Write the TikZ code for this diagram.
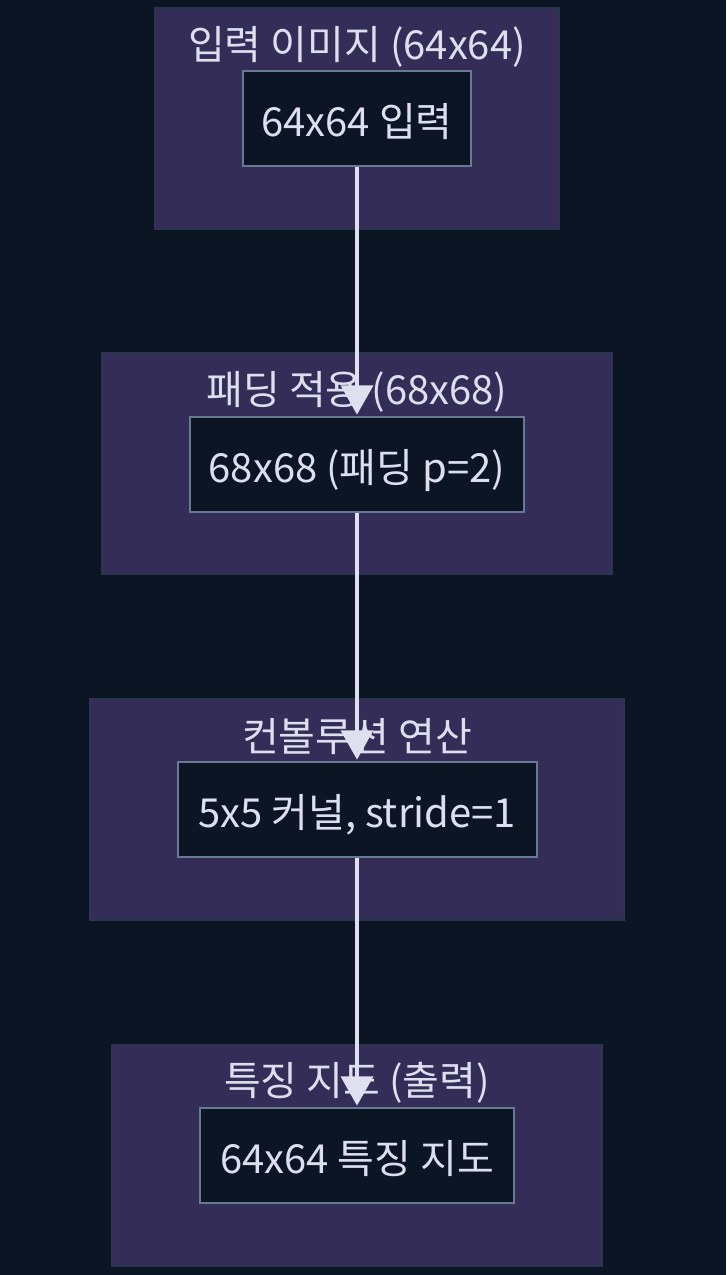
\documentclass[tikz,border=0pt]{standalone}
\usepackage{fontspec}
\setmainfont{Noto Sans CJK KR}
\usetikzlibrary{arrows.meta}
\definecolor{bgc}{HTML}{0B1524}
\definecolor{clfill}{HTML}{332D57}
\definecolor{cldraw}{HTML}{2B3550}
\definecolor{ndfill}{HTML}{0B1524}
\definecolor{nddraw}{HTML}{667A93}
\definecolor{txt}{HTML}{DDDFEE}
\definecolor{arr}{HTML}{DEDFEF}
\tikzset{
  cluster/.style={fill=clfill, draw=cldraw, line width=1.5pt},
  cltitle/.style={text=txt, font=\fontsize{30}{34}\selectfont, inner sep=0pt, anchor=center},
  nodebox/.style={fill=ndfill, draw=nddraw, line width=1.5pt, text=txt, font=\fontsize{30}{34}\selectfont, inner sep=0pt, anchor=center, text height=31pt, text depth=3.5pt},
  flow/.style={draw=arr, line width=3pt, -{Triangle[width=24pt,length=22pt]}, shorten >=1pt}
}
\begin{document}
\begin{tikzpicture}[x=0.75pt,y=-0.75pt]
\fill[bgc] (0,0) rectangle (726,1275);
\useasboundingbox (0,0) rectangle (726,1275);
% clusters
\draw[cluster] (155,8) rectangle (559,229);
\node[cltitle] (t1) at (357,47) {입력 이미지 (64x64)};
\draw[cluster] (102,353) rectangle (612,574);
\node[cltitle] (t2) at (357,392) {패딩 적용 (68x68)};
\draw[cluster] (90,699) rectangle (624,920);
\node[cltitle] (t3) at (357,737) {컨볼루션 연산};
\draw[cluster] (112,1045) rectangle (602,1266);
\node[cltitle] (t4) at (357,1083) {특징 지도 (출력)};
% nodes
\node[nodebox, minimum width=228*0.75pt, minimum height=95*0.75pt] (n1) at (357,118.5) {64x64 입력};
\node[nodebox, minimum width=334*0.75pt, minimum height=95*0.75pt] (n2) at (357,464.5) {68x68 (패딩 p=2)};
\node[nodebox, minimum width=359*0.75pt, minimum height=95*0.75pt] (n3) at (357,809.5) {5x5 커널, stride=1};
\node[nodebox, minimum width=314*0.75pt, minimum height=95*0.75pt] (n4) at (357,1155.5) {64x64 특징 지도};
% arrows
\draw[flow] (n1.south) -- (n2.north);
\draw[flow] (n2.south) -- (n3.north);
\draw[flow] (n3.south) -- (n4.north);
\end{tikzpicture}
\end{document}
